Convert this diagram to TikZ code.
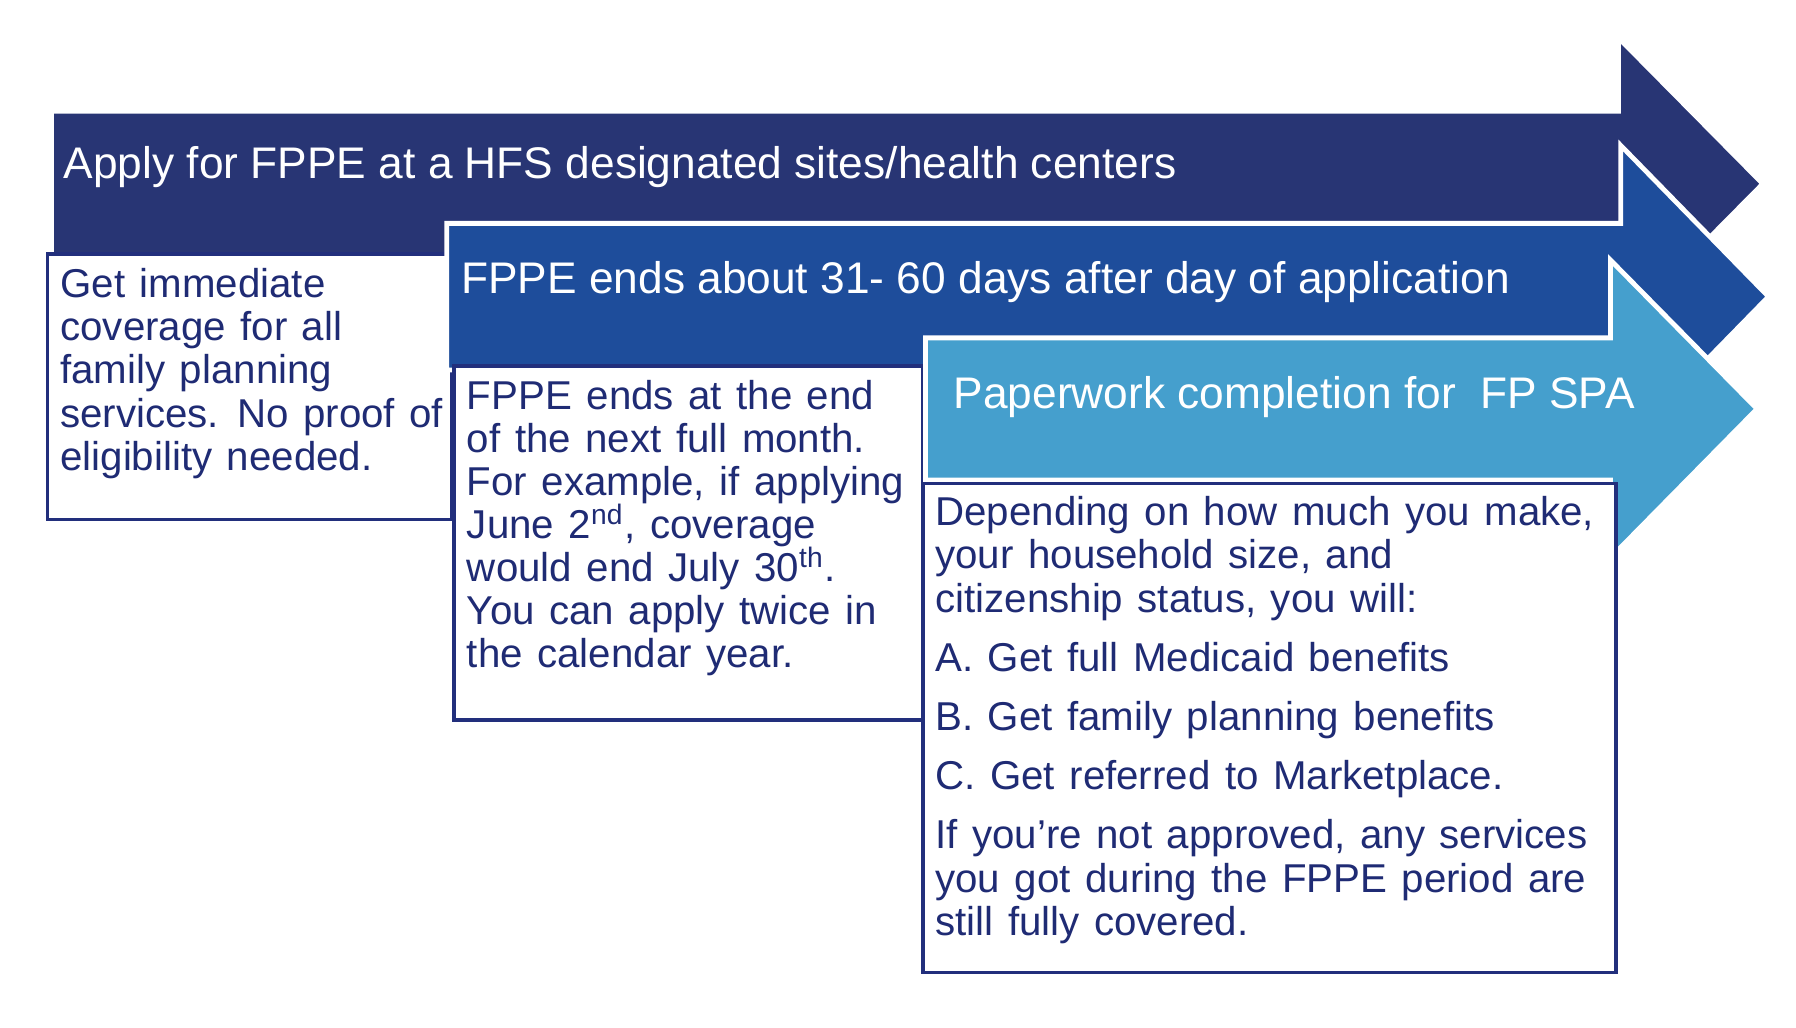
\documentclass[tikz,border=0pt]{standalone}
\usepackage{fontspec}
\setmainfont{Liberation Sans}
\definecolor{arrowA}{HTML}{283574}
\definecolor{arrowB}{HTML}{1E4D9B}
\definecolor{arrowC}{HTML}{459FCD}
\definecolor{boxnavy}{HTML}{222F7C}
\definecolor{textnavy}{HTML}{1F2B74}
\newcommand\bxfont[1]{\fontsize{10}{#1}\selectfont\spaceskip=3.6pt plus 1pt minus 0.5pt\relax}
\newcommand\supx[1]{\smash{\textsuperscript{#1}}}
\begin{document}
\begin{tikzpicture}[x=0.1mm,y=-0.1mm,
  arrowshape/.style={draw=white, line width=1.2pt, line join=miter},
  box/.style={draw=boxnavy, line width=0.9pt, fill=white, anchor=north west, inner sep=0pt},
  title/.style={anchor=base west, inner sep=0pt, text=white, font=\fontsize{11}{13}\selectfont},
  body/.style={anchor=base west, inner sep=0pt, text=textnavy}]
\useasboundingbox (0,0) rectangle (1568,897.5);
\fill[white] (0,0) rectangle (1568,897.5);

% arrow 1
\filldraw[arrowshape, fill=arrowA] (45,97) -- (1413,97) -- (1413,33) -- (1539,160.5)
  -- (1413,288) -- (1413,224) -- (45,224) -- cycle;
\node[title] (ta) at (55,156) {Apply for FPPE at a HFS designated sites/health centers};

% box 1
\node[box, minimum width=35.3mm, minimum height=23.2mm] (b1) at (40,220) {};
\node[body] (t1) at (52,260) {\parbox[t]{40mm}{\bxfont{10.7pt}\raggedright
Get immediate\\
coverage for all\\
family planning\\
services. No proof of\\
eligibility needed.}};

% arrow 2
\filldraw[arrowshape, fill=arrowB] (390,195) -- (1415,195) -- (1415,127) -- (1544,259)
  -- (1415,391) -- (1415,323) -- (390,323) -- cycle;
\node[title] (tb) at (402,256.4) {FPPE ends about 31- 60 days after day of application};

% box 2
\node[box, minimum width=40.9mm, minimum height=30.9mm] (b2) at (395,318) {};
\node[body] (t2) at (407,357.5) {\parbox[t]{45mm}{\bxfont{10.7pt}\raggedright
FPPE ends at the end\\
of the next full month.\\
For example, if applying\\
June 2\supx{nd}, coverage\\
would end July 30\supx{th}.\\
You can apply twice in\\
the calendar year.}};

% arrow 3
\filldraw[arrowshape, fill=arrowC] (808,295) -- (1406,295) -- (1406,227) -- (1534,357)
  -- (1406,487) -- (1406,419) -- (808,419) -- cycle;
\node[title] (tc) at (832,356.5) {Paperwork completion for\ \ FP SPA};

% box 3
\node[box, minimum width=60.5mm, minimum height=42.7mm] (b3) at (804,420.5) {};
\node[body] (t3) at (816,458.4) {\parbox[t]{62mm}{\bxfont{10.8pt}\raggedright
Depending on how much you make,\\
your household size, and\\
citizenship status, you will:\\[3.9pt]
A. Get full Medicaid benefits\\[3.9pt]
B. Get family planning benefits\\[3.9pt]
C. Get referred to Marketplace.\\[3.9pt]
If you’re not approved, any services\\
you got during the FPPE period are\\
still fully covered.}};
\end{tikzpicture}
\end{document}
